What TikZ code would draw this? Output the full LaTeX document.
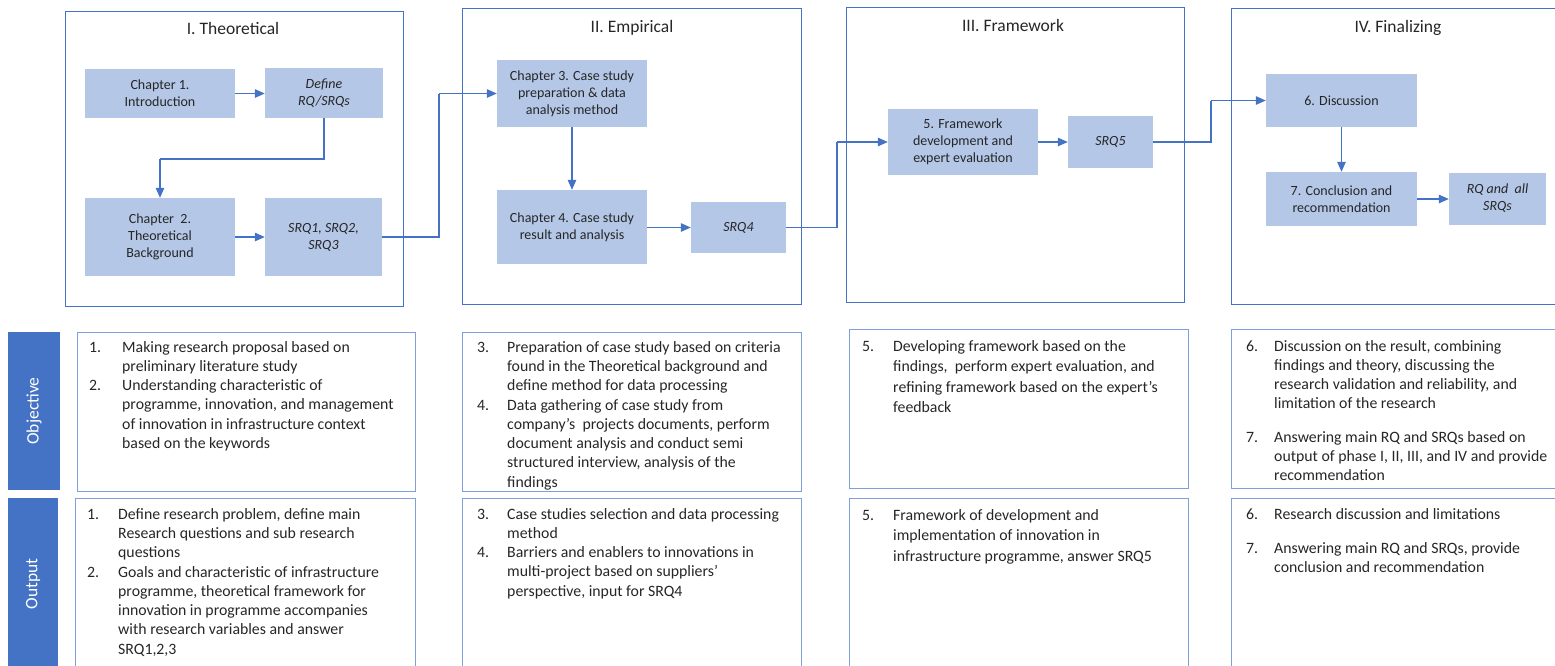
\documentclass[tikz,border=0pt]{standalone}
\usepackage{fontspec}
\setmainfont{Carlito}
\usetikzlibrary{arrows.meta}

\definecolor{accent}{HTML}{4472C4}
\definecolor{boxfill}{HTML}{B4C7E7}
\definecolor{listframe}{HTML}{7F9FDB}
\definecolor{ink}{HTML}{262626}

\tikzset{
  chap/.style={fill=boxfill, text=ink, align=center, inner sep=0pt,
    font=\fontsize{14}{17}\selectfont},
  phaseframe/.style={draw=accent, line width=1pt},
  listbox/.style={draw=listframe, line width=1pt},
  phasetitle/.style={text=ink, inner sep=0pt, font=\fontsize{17.5}{21}\selectfont},
  conn/.style={draw=accent, line width=1.2pt, -{Triangle[length=10pt,width=8.5pt]}},
  plainconn/.style={draw=accent, line width=1.2pt},
  rowlabel/.style={fill=accent, text=white, rotate=90, inner sep=0pt,
    font=\fontsize{17.5}{21}\selectfont},
  listnum/.style={anchor=base west, inner sep=0pt, text=ink,
    font=\fontsize{15.8}{19.3}\selectfont},
  listtxt/.style={anchor=base west, inner sep=0pt, text=ink,
    font=\fontsize{15.8}{19.3}\selectfont},
  widetxt/.style={listtxt, font=\fontsize{15.8}{20.6}\selectfont},
}

% numbered entry: name, number x, text x, baseline y, number, lines
\newcommand\phaseitem[7][listtxt]{%
  \node[listnum] (#2n) at (#3,#5) {#6};
  \node[#1] (#2t) at (#4,#5) {\parbox[t]{330pt}{\raggedright #7}};
}

\begin{document}
\begin{tikzpicture}[x=1pt, y=-1pt]
\useasboundingbox (0,0) rectangle (1555,665);
\clip (0,0) rectangle (1555,665);

% ---- phase frames ----
\draw[phaseframe] (65,11) rectangle (403,306);
\draw[phaseframe] (462,8) rectangle (801,304);
\draw[phaseframe] (846,7) rectangle (1184,302);
\draw[phaseframe] (1231,8) rectangle (1570,304);

\node[phasetitle] (t1) at (233,28) {I. Theoretical};
\node[phasetitle] (t2) at (632,28) {II. Empirical};
\node[phasetitle] (t3) at (1013,25) {III. Framework};
\node[phasetitle] (t4) at (1398,28) {IV. Finalizing};

% ---- chapter boxes ----
\node[chap, minimum width=150pt, minimum height=49pt] (ch1) at (160,93.5) {Chapter 1.\\Introduction};
\node[chap, minimum width=118pt, minimum height=50pt] (rq) at (324,93) {\itshape Define\\\itshape RQ/SRQs};
\node[chap, minimum width=150pt, minimum height=78pt] (ch2) at (160,237) {Chapter\ \ 2.\\Theoretical\\Background};
\node[chap, minimum width=117pt, minimum height=78pt] (srqa) at (323.5,237) {\itshape SRQ1, SRQ2,\\\itshape SRQ3};

\node[chap, minimum width=150pt, minimum height=67pt] (ch3) at (572,93.5) {Chapter 3. Case study\\preparation \& data\\analysis method};
\node[chap, minimum width=150pt, minimum height=74pt] (ch4) at (572,227) {Chapter 4. Case study\\result and analysis};
\node[chap, minimum width=95pt, minimum height=51pt] (srqb) at (738.5,227.5) {\itshape SRQ4};

\node[chap, minimum width=150pt, minimum height=66pt] (ch5) at (963,142) {5. Framework\\development and\\expert evaluation};
\node[chap, minimum width=85pt, minimum height=52pt] (srqc) at (1110.5,142) {\itshape SRQ5};

\node[chap, minimum width=151pt, minimum height=53pt] (ch6) at (1341.5,100.5) {6. Discussion};
\node[chap, minimum width=151pt, minimum height=54pt] (ch7) at (1341.5,199) {7. Conclusion and\\recommendation};
\node[chap, minimum width=97pt, minimum height=52pt] (rqall) at (1497.5,198.5) {\itshape RQ and\ \ all\\\itshape SRQs};

% ---- connector bends ----
\coordinate (bendA) at (0,159);
\coordinate (jA) at (439,0);
\coordinate (jB) at (837,0);
\coordinate (jC) at (1211,0);

% ---- connectors ----
\draw[conn] (ch1.east) -- (ch1.east -| rq.west);
\draw[plainconn] (rq.south) |- (ch2.north |- bendA);
\draw[conn] (ch2.north |- bendA) -- (ch2.north);
\draw[conn] (ch2.east) -- (srqa.west);
\draw[plainconn] (srqa.east) -| (jA |- ch3.west);
\draw[conn] (jA |- ch3.west) -- (ch3.west);

\draw[conn] (ch3.south) -- (ch4.north);
\draw[conn] (ch4.east |- srqb.west) -- (srqb.west);
\draw[plainconn] (srqb.east) -| (jB |- ch5.west);
\draw[conn] (jB |- ch5.west) -- (ch5.west);

\draw[conn] (ch5.east) -- (srqc.west);
\draw[plainconn] (srqc.east) -| (jC |- ch6.west);
\draw[conn] (jC |- ch6.west) -- (ch6.west);

\draw[conn] (ch6.south) -- (ch7.north);
\draw[conn] (ch7.east) -- (ch7.east -| rqall.west);

% ---- row labels ----
\node[rowlabel, minimum width=158pt, minimum height=52pt] (objlabel) at (34,411) {Objective};
\node[rowlabel, minimum width=172pt, minimum height=50pt] (outlabel) at (33,584) {Output};

% ---- objective / output frames ----
\draw[listbox] (77,332) rectangle (415,491);
\draw[listbox] (75,498) rectangle (415,672);
\draw[listbox] (462,332) rectangle (801,491);
\draw[listbox] (462,498) rectangle (801,672);
\draw[listbox] (849,329) rectangle (1188,488);
\draw[listbox] (849,498) rectangle (1188,672);
\draw[listbox] (1231,329) rectangle (1570,488);
\draw[listbox] (1231,498) rectangle (1570,672);

% ---- phase I ----
\phaseitem{oa}{89}{122}{352}{1.}{Making research proposal based on\\preliminary literature study}
\phaseitem{ob}{89}{122}{390.6}{2.}{Understanding characteristic of\\programme, innovation, and management\\of innovation in infrastructure context\\based on the keywords}
\phaseitem{pa}{87}{118}{519}{1.}{Define research problem, define main\\Research questions and sub research\\questions}
\phaseitem{pb}{87}{118}{577}{2.}{Goals and characteristic of infrastructure\\programme, theoretical framework for\\innovation in programme accompanies\\with research variables and answer\\SRQ1,2,3}

% ---- phase II ----
\phaseitem{oc}{477}{507}{352}{3.}{Preparation of case study based on criteria\\found in the Theoretical background and\\define method for data processing}
\phaseitem{od}{477}{507}{410}{4.}{Data gathering of case study from\\company’s\ \ projects documents, perform\\document analysis and conduct semi\\structured interview, analysis of the\\findings}
\phaseitem{pc}{477}{507}{519}{3.}{Case studies selection and data processing\\method}
\phaseitem{pd}{477}{507}{557.6}{4.}{Barriers and enablers to innovations in\\multi-project based on suppliers’\\perspective, input for SRQ4}

% ---- phase III ----
\phaseitem[widetxt]{oe}{862}{893}{351}{5.}{Developing framework based on the\\findings,\ \ perform expert evaluation, and\\refining framework based on the expert’s\\feedback}
\phaseitem[widetxt]{pe}{862}{893}{520}{5.}{Framework of development and\\implementation of innovation in\\infrastructure programme, answer SRQ5}

% ---- phase IV ----
\phaseitem{of}{1246}{1274}{351}{6.}{Discussion on the result, combining\\findings and theory, discussing the\\research validation and reliability, and\\limitation of the research}
\phaseitem{og}{1246}{1274}{442}{7.}{Answering main RQ and SRQs based on\\output of phase I, II, III, and IV and provide\\recommendation}
\phaseitem{pf}{1246}{1274}{519}{6.}{Research discussion and limitations}
\phaseitem{pg}{1246}{1274}{553}{7.}{Answering main RQ and SRQs, provide\\conclusion and recommendation}

\end{tikzpicture}
\end{document}
